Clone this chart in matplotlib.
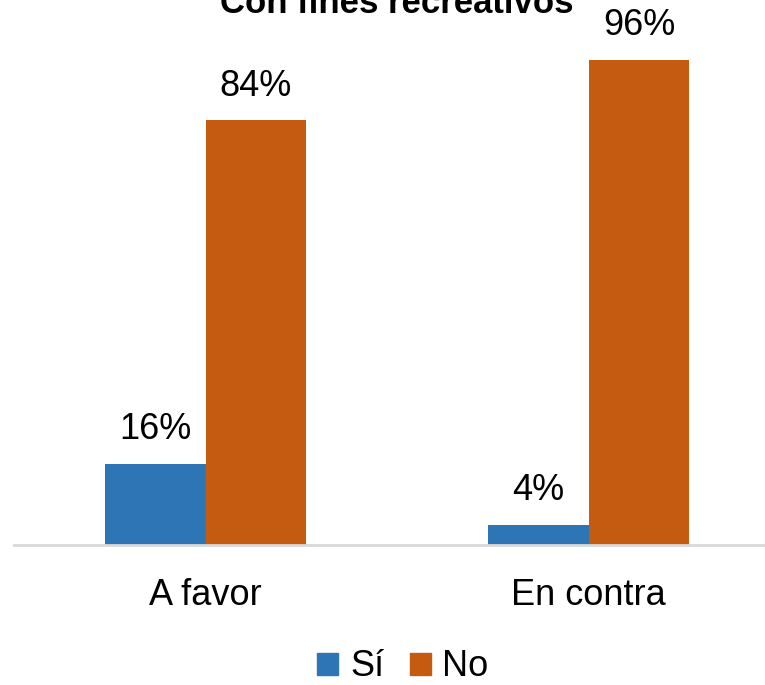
import matplotlib
matplotlib.use("Agg")
import matplotlib.pyplot as plt
from matplotlib.patches import Patch
from matplotlib import font_manager

categories = ["A favor", "En contra"]
series_names = ["Sí", "No"]
si_values = [16, 4]
no_values = [84, 96]
title = "Con fines recreativos"

colors = ["#2E75B6", "#C55A11"]

avail = {f.name for f in font_manager.fontManager.ttflist}
fam = ["Liberation Sans Narrow", "Liberation Sans", "DejaVu Sans"]
fam = [f for f in fam if f in avail] or ["DejaVu Sans"]
plt.rcParams["font.family"] = fam

W, H = 765, 685
fig = plt.figure(figsize=(W / 100, H / 100), dpi=100)
ax = fig.add_axes([14 / W, 1 - 545 / H, 1 - 14 / W, 505.5 / H])

x = [0, 1]
bw = 0.262
b1 = ax.bar([i - bw / 2 for i in x], si_values, width=bw, color=colors[0], label=series_names[0])
b2 = ax.bar([i + bw / 2 for i in x], no_values, width=bw, color=colors[1], label=series_names[1])
for bars, vals in ((b1, si_values), (b2, no_values)):
    for r, v in zip(bars, vals):
        ax.annotate(f"{v}%", (r.get_x() + r.get_width() / 2, v), xytext=(0, 12),
                    textcoords="offset points", ha="center", va="bottom", fontsize=26)

ax.set_xlim(-0.5, 1.46)
ax.set_ylim(0, 100)
ax.set_xticks(x)
ax.set_xticklabels(categories, fontsize=26)
ax.tick_params(axis="x", length=0, pad=24)
ax.set_yticks([])
for s in ("top", "right", "left"):
    ax.spines[s].set_visible(False)
ax.spines["bottom"].set_color("#D9D9D9")
ax.spines["bottom"].set_linewidth(2)

fig.text(397 / W, 1 - 13 / H, title, ha="center", va="baseline", fontsize=25, fontweight="bold",
         family=["Liberation Sans", "DejaVu Sans"])

handles = [Patch(color=colors[0]), Patch(color=colors[1])]
fig.legend(handles, series_names, loc="center", bbox_to_anchor=(403 / W, 1 - 667 / H),
           ncol=2, frameon=False, fontsize=26, handlelength=0.58, handleheight=0.58,
           handletextpad=0.33, columnspacing=0.7, borderaxespad=0, borderpad=0)

fig.savefig("out.png", dpi=100)
